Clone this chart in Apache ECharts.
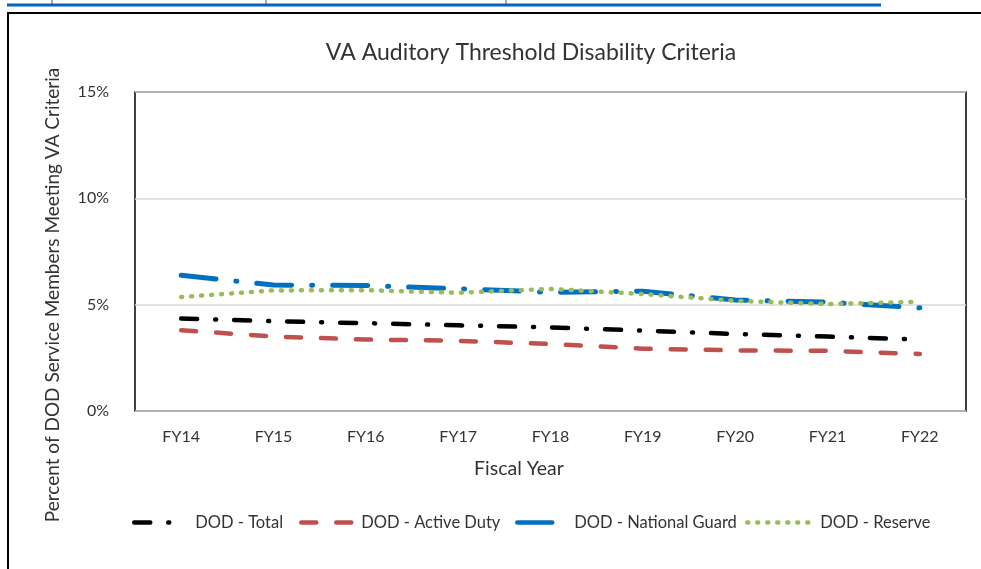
<!DOCTYPE html>
<html>
<head>
<meta charset="utf-8">
<script src="https://cdn.jsdelivr.net/npm/echarts@6/dist/echarts.min.js"></script>
<style>
html,body{margin:0;padding:0;background:#fff;}
#chart{width:981px;height:569px;}
</style>
</head>
<body>
<div id="chart"></div>
<script>
var categories = ['FY14','FY15','FY16','FY17','FY18','FY19','FY20','FY21','FY22'];
var dodTotal = [4.35, 4.22, 4.13, 4.03, 3.93, 3.78, 3.62, 3.50, 3.36];
var dodActive = [3.80, 3.50, 3.36, 3.30, 3.15, 2.93, 2.85, 2.83, 2.68];
var dodGuard = [6.38, 5.92, 5.90, 5.75, 5.58, 5.63, 5.22, 5.12, 4.85];
var dodReserve = [5.36, 5.67, 5.68, 5.56, 5.74, 5.50, 5.18, 5.03, 5.14];
var seriesNames = ['DOD - Total', 'DOD - Active Duty', 'DOD - National Guard', 'DOD - Reserve'];
var yTicks = [0, 5, 10, 15];

var FONT = 'Lato, "Open Sans", sans-serif';
var chart = echarts.init(document.getElementById('chart'), null, {renderer: 'canvas'});

function legendAt(name, left, w, padLeft) {
  return {
    data: [name], left: left, top: 509, itemWidth: w, itemHeight: 14, itemGap: 0,
    icon: 'inherit',
    itemStyle: {opacity: 0},
    lineStyle: {width: 4.5, type: 'inherit', cap: 'inherit', opacity: 1},
    textStyle: {fontFamily: FONT, fontSize: 16.5, color: '#333', padding: [0, 0, 0, padLeft || 0]}
  };
}

var option = {
  backgroundColor: '#fff',
  animation: false,
  title: {
    text: 'VA Auditory Threshold Disability Criteria',
    left: 526, top: 36, textAlign: 'center',
    textStyle: {fontFamily: FONT, fontSize: 23, fontWeight: 'normal', color: '#333'}
  },
  legend: [
    legendAt(seriesNames[0], 127, 42, 14),
    legendAt(seriesNames[1], 294, 55),
    legendAt(seriesNames[2], 510, 52),
    legendAt(seriesNames[3], 740, 68)
  ],
  grid: {left: 135, right: 15, top: 92, bottom: 158, show: true, borderColor: '#000', borderWidth: 1.5, containLabel: false},
  xAxis: {
    type: 'category', data: categories, boundaryGap: true,
    axisLine: {show: false}, axisTick: {show: false},
    axisLabel: {margin: 18, fontFamily: FONT, fontSize: 16, color: '#333'}
  },
  yAxis: {
    type: 'value', min: yTicks[0], max: yTicks[yTicks.length - 1], interval: 5,
    axisLine: {show: false}, axisTick: {show: false},
    axisLabel: {margin: 26, fontFamily: FONT, fontSize: 16, color: '#333', formatter: '{value}%'},
    splitLine: {show: true, lineStyle: {color: '#d9d9d9', width: 1.5}}
  },
  graphic: [
    {type: 'line', shape: {x1: 7, y1: 5, x2: 881, y2: 5}, style: {stroke: '#0563C1', lineWidth: 3}},
    {type: 'line', shape: {x1: 52, y1: 0, x2: 52, y2: 5}, style: {stroke: '#0563C1', lineWidth: 1}},
    {type: 'line', shape: {x1: 266, y1: 0, x2: 266, y2: 5}, style: {stroke: '#0563C1', lineWidth: 1}},
    {type: 'line', shape: {x1: 506, y1: 0, x2: 506, y2: 5}, style: {stroke: '#0563C1', lineWidth: 1}},
    {type: 'polyline', shape: {points: [[8, 575], [8, 13], [990, 13]]}, style: {stroke: '#000', lineWidth: 2, fill: null}},
    {type: 'text', x: 519, y: 469, style: {text: 'Fiscal Year', fontFamily: FONT, fontSize: 19.5, fill: '#333', textAlign: 'center', textVerticalAlign: 'middle'}},
    {type: 'text', x: 53, y: 295, rotation: Math.PI / 2, style: {text: 'Percent of DOD Service Members Meeting VA Criteria', fontFamily: FONT, fontSize: 19, fill: '#333', textAlign: 'center', textVerticalAlign: 'middle'}}
  ],
  series: [
    {name: seriesNames[0], type: 'line', data: dodTotal, symbol: 'none', smooth: false,
     itemStyle: {color: '#000'},
     lineStyle: {color: '#000', width: 4.5, type: [16, 18, 1, 18], cap: 'round'}},
    {name: seriesNames[1], type: 'line', data: dodActive, symbol: 'none', smooth: false,
     itemStyle: {color: '#C0504D'},
     lineStyle: {color: '#C0504D', width: 4.5, type: [15, 20], cap: 'round'}},
    {name: seriesNames[2], type: 'line', data: dodGuard, symbol: 'none', smooth: false,
     itemStyle: {color: '#0070C0'},
     lineStyle: {color: '#0070C0', width: 5, type: [35, 20, 1, 20], cap: 'round'}},
    {name: seriesNames[3], type: 'line', data: dodReserve, symbol: 'none', smooth: false,
     itemStyle: {color: '#9BBB59'},
     lineStyle: {color: '#9BBB59', width: 4.5, type: [1, 9], cap: 'round'}}
  ]
};
chart.setOption(option);
</script>
</body>
</html>
